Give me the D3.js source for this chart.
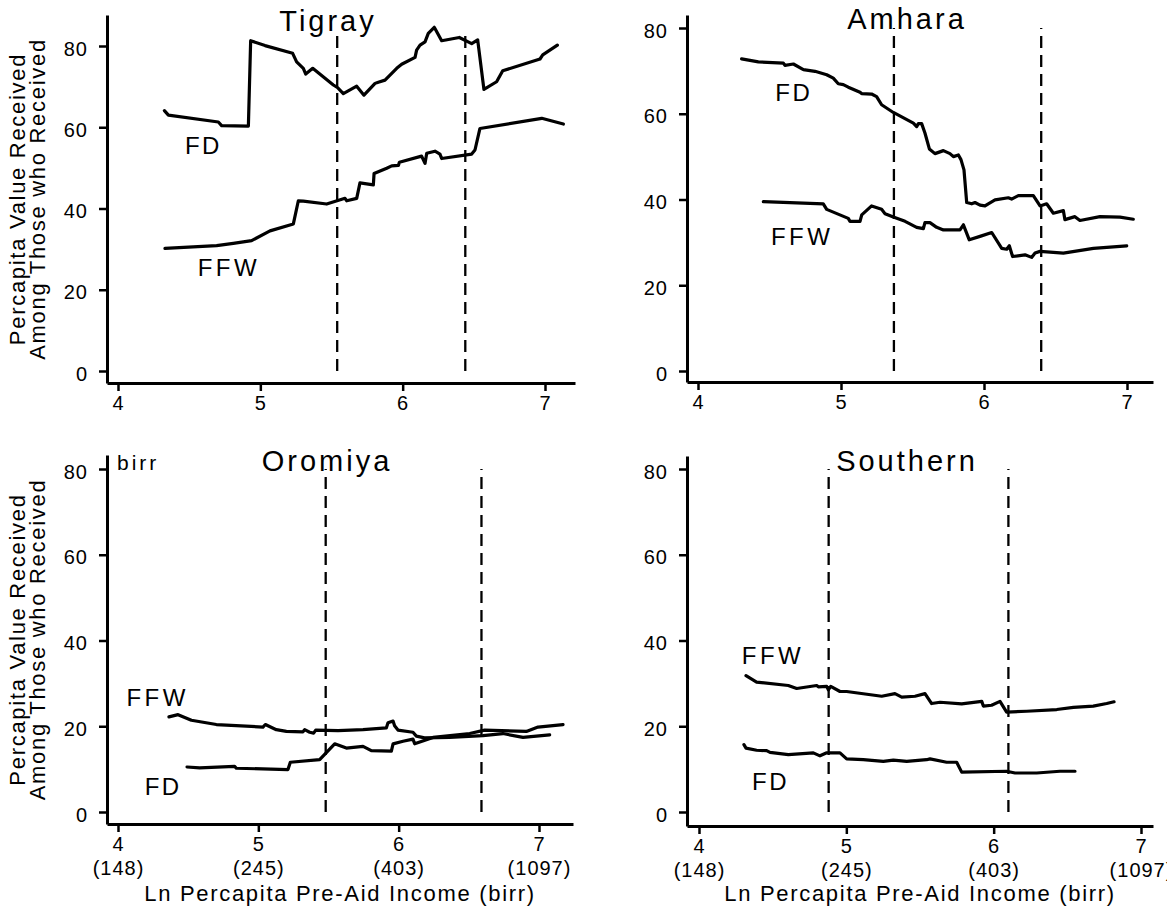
<!DOCTYPE html>
<html lang="en">
<head>
<meta charset="UTF-8">
<title>Percapita value received by income, four regions</title>
<script src="https://cdnjs.cloudflare.com/ajax/libs/d3/7.8.5/d3.min.js"></script>
<style>
    body { margin: 0; background: #fff; }
    svg { display: block; }
    text { font-family: "Liberation Sans", Arial, Helvetica, sans-serif; fill: #000; }
    .axis path, .axis line { stroke: #000; }
    .axis path { stroke-width: 3px; }
    .axis line { stroke-width: 2.5px; }
    .axis text { font-size: 20px; letter-spacing: 1px; }
</style>
</head>
<body>
<div id="chart"></div>
<script>
// axis ticks and labels
const xTicks = [4, 5, 6, 7];
const xTickIncome = ["(148)", "(245)", "(403)", "(1097)"];
const yTicks = [0, 20, 40, 60, 80];
const regions = ["Tigray", "Amhara", "Oromiya", "Southern"];

// curves: [ln income, value received]
const tigrayFD = [[4.326,64.1],[4.354,63.0],[4.705,61.3],[4.728,60.4],[4.916,60.3],[4.932,81.3],[5.033,80.1],
    [5.227,78.2],[5.255,76.1],[5.302,74.5],[5.319,73.1],[5.368,74.5],[5.513,70.4],[5.541,69.8],[5.583,68.3],
    [5.677,70.1],[5.728,67.9],[5.806,70.8],[5.829,71.1],[5.876,71.6],[5.958,74.5],[5.993,75.5],[6.087,77.2],
    [6.098,79.0],[6.122,80.2],[6.157,81.0],[6.180,83.1],[6.222,84.6],[6.274,81.3],[6.398,82.1],[6.485,80.6],
    [6.527,81.5],[6.571,69.3],[6.660,71.2],[6.703,73.9],[6.965,76.8],[6.984,77.8],[7.087,80.2]];
const tigrayFFW = [[4.330,30.2],[4.693,30.85],[4.810,31.4],[4.939,32.1],[5.068,34.5],[5.232,36.2],[5.267,41.9],
    [5.302,41.8],[5.466,41.1],[5.595,42.5],[5.607,41.9],[5.677,42.5],[5.700,46.3],[5.794,45.8],[5.799,48.6],
    [5.888,49.9],[5.923,50.5],[5.970,50.6],[5.977,51.4],[6.133,52.9],[6.157,51.1],[6.169,53.6],[6.227,54.1],
    [6.262,53.4],[6.274,52.3],[6.485,53.4],[6.508,54.4],[6.543,59.7],[6.977,62.2],[7.129,60.8]];
const amharaFD = [[4.305,72.8],[4.422,72.1],[4.597,71.8],[4.608,71.3],[4.667,71.6],[4.737,70.3],[4.818,69.9],
    [4.900,69.1],[4.946,68.3],[4.981,67.0],[5.016,66.8],[5.051,66.2],[5.133,65.0],[5.144,64.7],[5.214,64.6],
    [5.249,64.0],[5.284,62.1],[5.366,60.3],[5.506,57.8],[5.529,57.0],[5.541,57.7],[5.564,57.7],[5.587,55.5],
    [5.618,51.8],[5.657,50.7],[5.716,51.4],[5.762,50.7],[5.786,50.0],[5.821,50.4],[5.839,49.3],[5.860,46.9],
    [5.879,39.3],[5.914,39.0],[5.937,39.3],[5.972,38.7],[6.007,38.5],[6.030,39.0],[6.077,39.9],[6.170,40.4],
    [6.193,40.1],[6.240,40.9],[6.345,40.9],[6.392,38.5],[6.438,39.0],[6.485,36.8],[6.555,37.4],[6.566,35.3],
    [6.636,36.0],[6.671,35.1],[6.811,36.0],[6.951,35.9],[7.044,35.4]];
const amharaFFW = [[4.457,39.5],[4.876,39.0],[4.900,37.7],[5.051,35.6],[5.063,34.9],[5.133,34.9],[5.145,36.4],
    [5.214,38.5],[5.284,37.7],[5.308,36.7],[5.366,35.9],[5.448,34.9],[5.529,33.5],[5.576,33.2],[5.587,34.6],
    [5.622,34.6],[5.669,33.5],[5.716,32.9],[5.832,32.9],[5.856,34.1],[5.897,30.6],[5.972,31.4],[6.054,32.3],
    [6.124,28.6],[6.159,28.4],[6.177,29.2],[6.200,26.7],[6.287,27.1],[6.333,26.5],[6.357,27.5],[6.392,27.9],
    [6.555,27.5],[6.765,28.6],[6.998,29.2]];
const oromiyaFFW = [[4.363,22.2],[4.428,22.7],[4.523,21.4],[4.701,20.4],[5.033,19.8],[5.050,20.4],[5.128,19.2],
    [5.200,18.8],[5.318,18.7],[5.330,19.2],[5.366,18.6],[5.394,18.4],[5.409,19.1],[5.568,19.0],[5.746,19.2],
    [5.912,19.6],[5.924,20.8],[5.960,21.2],[5.971,20.1],[5.995,19.1],[6.102,18.6],[6.126,17.7],[6.185,17.3],
    [6.363,17.4],[6.601,17.8],[6.743,18.3],[6.886,17.4],[7.076,18.0]];
const oromiyaFD = [[4.492,10.5],[4.582,10.3],[4.831,10.65],[4.843,10.2],[5.211,9.9],[5.228,11.6],[5.437,12.2],
    [5.544,15.9],[5.627,14.9],[5.746,15.3],[5.805,14.3],[5.948,14.2],[5.960,15.9],[6.031,16.5],[6.102,17.0],
    [6.114,15.9],[6.245,17.4],[6.506,18.3],[6.613,19.1],[6.910,18.8],[6.993,19.8],[7.171,20.4]];
const southernFFW = [[4.319,31.8],[4.391,30.3],[4.606,29.5],[4.663,28.8],[4.799,29.5],[4.810,29.2],[4.867,29.3],
    [4.878,28.5],[4.894,29.3],[4.957,28.1],[5.002,28.1],[5.240,27.0],[5.330,27.6],[5.376,26.8],[5.466,27.0],
    [5.534,27.6],[5.579,25.3],[5.636,25.6],[5.783,25.2],[5.919,25.8],[5.930,24.7],[5.986,24.9],[6.043,25.8],
    [6.088,23.3],[6.224,23.5],[6.428,23.9],[6.541,24.4],[6.676,24.7],[6.767,25.3],[6.817,25.7]];
const southernFD = [[4.305,15.7],[4.319,14.9],[4.391,14.4],[4.459,14.3],[4.482,13.9],[4.606,13.4],[4.776,13.8],
    [4.821,13.1],[4.867,13.8],[4.957,13.8],[5.002,12.4],[5.115,12.2],[5.251,11.8],[5.319,12.1],[5.410,11.8],
    [5.545,12.2],[5.568,12.4],[5.681,11.6],[5.749,11.6],[5.783,9.3],[6.088,9.5],[6.145,9.1],[6.292,9.1],
    [6.450,9.5],[6.552,9.5]];

// vertical dashed cut-offs (ln income) and their top value
const tigrayCuts = [5.54, 6.44];
const amharaCuts = [5.37, 6.40];
const oromiyaCuts = [5.48, 6.59];
const southernCuts = [4.88, 6.10];
const cutTops = [84, 80, 80, 80];

// label anchor points in data units: FD, FFW
const fdLabelAt = [[4.47, 53.4], [4.54, 63.0], [4.19, 4.0], [4.36, 5.1]];
const ffwLabelAt = [[4.56, 23.4], [4.51, 29.4], [4.06, 24.7], [4.29, 34.5]];

// layout of the four panels (pixels)
const panels = [
    {x4: 118, x7: 545, y0: 371, y80: 46, axisX: 107, axisY: 383, top: 15, right: 575, tx: 328, ty: 31, row: 0, col: 0},
    {x4: 698, x7: 1127, y0: 371, y80: 28, axisX: 687, axisY: 382, top: 15, right: 1153, tx: 907, ty: 29, row: 0, col: 1},
    {x4: 118, x7: 539, y0: 812, y80: 469, axisX: 107, axisY: 824, top: 455, right: 573, tx: 327, ty: 471, row: 1, col: 0},
    {x4: 699, x7: 1141, y0: 812, y80: 469, axisX: 687, axisY: 826, top: 456, right: 1153, tx: 907, ty: 471, row: 1, col: 1}
];
const series = [
    {fd: tigrayFD, ffw: tigrayFFW, cuts: tigrayCuts},
    {fd: amharaFD, ffw: amharaFFW, cuts: amharaCuts},
    {fd: oromiyaFD, ffw: oromiyaFFW, cuts: oromiyaCuts},
    {fd: southernFD, ffw: southernFFW, cuts: southernCuts}
];

const svg = d3.select("#chart").append("svg")
    .attr("width", 1167)
    .attr("height", 907);

panels.forEach((p, i) => {
    const x = d3.scaleLinear().domain([4, 7]).range([p.x4, p.x7]);
    const y = d3.scaleLinear().domain([0, 80]).range([p.y0, p.y80]);
    const g = svg.append("g");

    // axes span from the corner to the ends of the frame
    const xa = x.copy().domain([x.invert(p.axisX), x.invert(p.right)]).range([p.axisX, p.right]);
    const ya = y.copy().domain([y.invert(p.axisY), y.invert(p.top)]).range([p.axisY, p.top]);

    const gx = g.append("g").attr("class", "axis")
        .attr("transform", `translate(0,${p.axisY})`)
        .call(d3.axisBottom(xa).tickValues(xTicks).tickSize(8).tickSizeOuter(0).tickPadding(5).tickFormat(d3.format("d")));
    if (p.row === 1) {
        gx.selectAll(".tick").append("text")
            .attr("y", 37)
            .attr("dy", "0.71em")
            .attr("fill", "#000")
            .text((d, k) => xTickIncome[k]);
    }
    g.append("g").attr("class", "axis")
        .attr("transform", `translate(${p.axisX},0)`)
        .call(d3.axisLeft(ya).tickValues(yTicks).tickSize(8).tickSizeOuter(0).tickPadding(11))
        .selectAll("text").attr("dy", "0.45em");

    // dashed cut-off lines
    g.selectAll(".cut")
        .data(series[i].cuts)
        .join("line")
        .attr("class", "cut")
        .attr("x1", d => x(d)).attr("x2", d => x(d))
        .attr("y1", y(0)).attr("y2", y(cutTops[i]))
        .attr("stroke", "#000")
        .attr("stroke-width", 2.3)
        .attr("stroke-dasharray", "12,7");

    const line = d3.line().x(d => x(d[0])).y(d => y(d[1]));
    [series[i].fd, series[i].ffw].forEach(s => {
        g.append("path")
            .datum(s)
            .attr("d", line)
            .attr("fill", "none")
            .attr("stroke", "#000")
            .attr("stroke-width", 3.2)
            .attr("stroke-linejoin", "round")
            .attr("stroke-linecap", "round");
    });

    // series labels
    g.append("text")
        .attr("x", x(fdLabelAt[i][0])).attr("y", y(fdLabelAt[i][1]))
        .style("font-size", "24px").style("letter-spacing", "2.5px")
        .text("FD");
    g.append("text")
        .attr("x", x(ffwLabelAt[i][0])).attr("y", y(ffwLabelAt[i][1]))
        .style("font-size", "24px").style("letter-spacing", "3.5px")
        .text("FFW");

    // region title
    g.append("text")
        .attr("x", p.tx).attr("y", p.ty)
        .attr("text-anchor", "middle")
        .style("font-size", "29px").style("letter-spacing", "3px")
        .text(regions[i]);

    if (i === 2) {
        g.append("text")
            .attr("x", p.axisX + 10).attr("y", p.y80 + 1)
            .style("font-size", "21px").style("letter-spacing", "3px")
            .text("birr");
    }

    // y title on the left column
    if (p.col === 0) {
        const cy = (p.top + p.axisY) / 2;
        const yt = g.append("text")
            .attr("transform", `translate(25,${cy}) rotate(-90)`)
            .attr("text-anchor", "middle")
            .style("font-size", "22px").style("letter-spacing", "1.7px");
        yt.append("tspan").attr("x", 0).attr("y", 0).text("Percapita Value Received");
        yt.append("tspan").attr("x", 0).attr("y", 20).text("Among Those who Received");
    }

    // x title on the bottom row
    if (p.row === 1) {
        g.append("text")
            .attr("x", (p.axisX + p.right) / 2).attr("y", 901)
            .attr("text-anchor", "middle")
            .style("font-size", "22px").style("letter-spacing", "1.7px")
            .text("Ln Percapita Pre-Aid Income (birr)");
    }
});
</script>
</body>
</html>
